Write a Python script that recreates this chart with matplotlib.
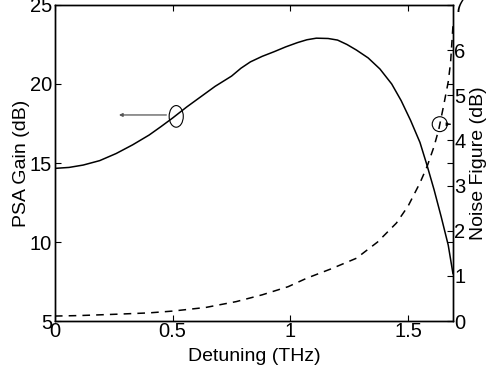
import matplotlib
matplotlib.use("Agg")
import matplotlib.pyplot as plt
from matplotlib.patches import Ellipse

plt.rcParams["font.family"] = ["Liberation Sans", "DejaVu Sans"]

# PSA gain (left axis)
gain_x = [0.0, 0.06, 0.12, 0.19, 0.26, 0.33, 0.40, 0.45, 0.50, 0.56, 0.62, 0.68, 0.75, 0.79, 0.83,
          0.88, 0.93, 0.98, 1.03, 1.07, 1.11, 1.16, 1.20, 1.24, 1.28, 1.33, 1.38, 1.43, 1.47,
          1.51, 1.55, 1.58, 1.61, 1.64, 1.67, 1.69]
gain_y = [14.66, 14.72, 14.87, 15.15, 15.6, 16.15, 16.77, 17.3, 17.85, 18.55, 19.2, 19.85, 20.5,
          21.0, 21.4, 21.75, 22.04, 22.35, 22.62, 22.8, 22.9, 22.88, 22.78, 22.5, 22.15, 21.65,
          20.95, 20.0, 18.95, 17.7, 16.3, 14.85, 13.3, 11.6, 9.8, 8.0]

# noise figure (right axis)
nf_x = [0.0, 0.1, 0.26, 0.4, 0.5, 0.64, 0.77, 0.88, 0.99, 1.07, 1.17, 1.28, 1.37, 1.45, 1.50,
        1.55, 1.58, 1.61, 1.63, 1.65, 1.67, 1.68, 1.69]
nf_y = [0.11, 0.12, 0.15, 0.18, 0.22, 0.3, 0.43, 0.58, 0.76, 0.95, 1.15, 1.39, 1.75, 2.17, 2.55,
        3.06, 3.42, 3.87, 4.25, 4.76, 5.3, 5.73, 6.54]

fig = plt.figure(figsize=(4.86, 3.70), dpi=100)
ax = fig.add_axes([0.113, 0.1324, 0.819, 0.8541])
ax2 = ax.twinx()

ax.plot(gain_x, gain_y, color="black", lw=1.1)
ax2.plot(nf_x, nf_y, color="black", lw=1.1, ls=(0, (5, 4)))

ax.set_xlim(0, 1.69)
ax.set_ylim(5, 25)
ax2.set_ylim(0, 7)
ax.set_xticks([0, 0.5, 1, 1.5])
ax.set_xticklabels(["0", "0.5", "1", "1.5"])
ax.set_yticks([5, 10, 15, 20, 25])
ax2.set_yticks(range(8))

ax.tick_params(direction="in", top=True, right=True, labelsize=14.5, length=4, pad=2)
ax.tick_params(axis="x", pad=1)
ax2.tick_params(direction="in", labelsize=14.5, length=4, pad=1)
for a in (ax, ax2):
    for s in a.spines.values():
        s.set_linewidth(1.0)

ax.set_xlabel("Detuning (THz)", fontsize=14, labelpad=5)
ax.set_ylabel("PSA Gain (dB)", fontsize=14, labelpad=0)
ax2.set_ylabel("Noise Figure (dB)", fontsize=14, rotation=90)
ax2.yaxis.set_label_coords(1.043, 0.5)

# ellipse markers + arrows pointing at each curve's axis
ax.add_patch(Ellipse((0.515, 17.95), 0.06, 1.37, fill=False, color="black", lw=0.8))
ax.annotate("", xy=(0.26, 18.04), xytext=(0.485, 18.04),
            arrowprops=dict(arrowstyle="-|>", color="#555555", lw=0.9, mutation_scale=5))
ax2.add_patch(Ellipse((1.634, 4.36), 0.064, 0.33, fill=False, color="black", lw=0.8))
ax2.annotate("", xy=(1.69, 4.36), xytext=(1.666, 4.36),
             arrowprops=dict(arrowstyle="-|>", color="black", lw=0.8, mutation_scale=5))

fig.savefig("out.png", dpi=100)
